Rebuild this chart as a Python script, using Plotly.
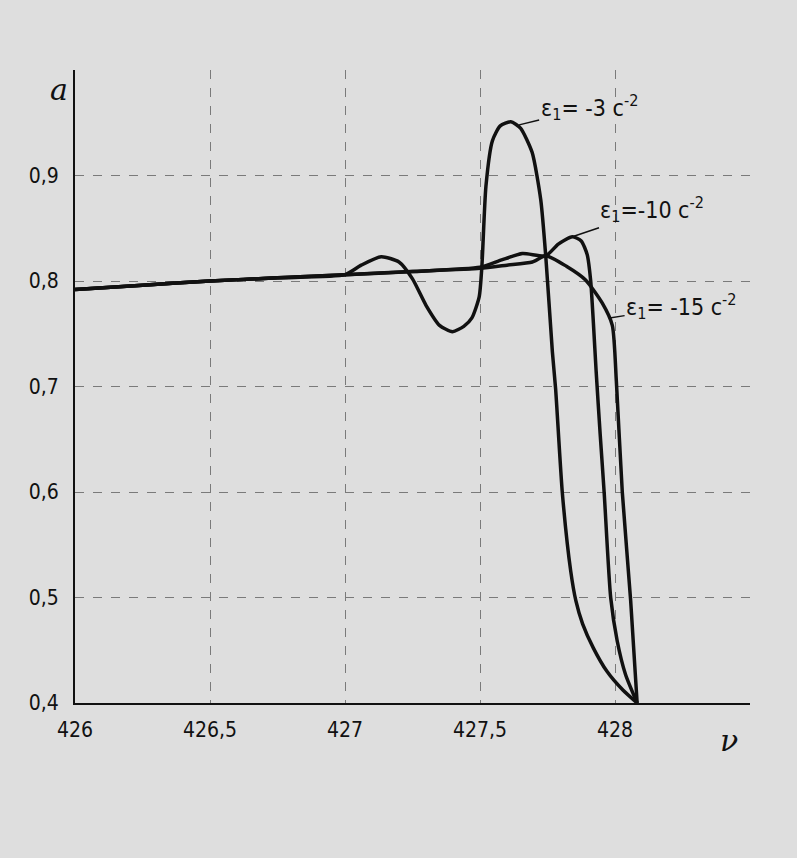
import plotly.graph_objects as go

# ---- data ----
x_eps3 = [426.0, 426.25, 426.5, 426.75, 427.0, 427.06, 427.134, 427.2, 427.25, 427.3, 427.35,
          427.398, 427.44, 427.47, 427.497, 427.507, 427.522, 427.546, 427.575, 427.614,
          427.65, 427.693, 427.725, 427.744, 427.768, 427.78, 427.805, 427.836, 427.855,
          427.88, 427.92, 427.97, 428.03, 428.082]
a_eps3 = [0.792, 0.796, 0.800, 0.803, 0.806, 0.815, 0.823, 0.818, 0.802, 0.777, 0.758,
          0.752, 0.757, 0.765, 0.785, 0.814, 0.890, 0.933, 0.947, 0.951,
          0.945, 0.922, 0.877, 0.822, 0.733, 0.698, 0.599, 0.525, 0.497,
          0.475, 0.452, 0.430, 0.412, 0.400]

x_eps10 = [426.0, 426.25, 426.5, 426.75, 427.0, 427.25, 427.5, 427.58, 427.657, 427.744,
           427.79, 427.842, 427.875, 427.897, 427.91, 427.92, 427.93, 427.945, 427.96,
           427.984, 428.008, 428.039, 428.082]
a_eps10 = [0.792, 0.796, 0.800, 0.803, 0.806, 0.809, 0.813, 0.820, 0.826, 0.824,
           0.835, 0.842, 0.838, 0.825, 0.800, 0.760, 0.715, 0.655, 0.599,
           0.500, 0.459, 0.427, 0.400]

x_eps15 = [426.0, 426.25, 426.5, 426.75, 427.0, 427.25, 427.5, 427.6, 427.694, 427.744,
           427.82, 427.891, 427.953, 427.99, 428.005, 428.027, 428.058, 428.082]
a_eps15 = [0.792, 0.796, 0.800, 0.803, 0.806, 0.809, 0.812, 0.815, 0.818, 0.824,
           0.814, 0.801, 0.779, 0.758, 0.705, 0.600, 0.497, 0.400]

x_ticks = [426.0, 426.5, 427.0, 427.5, 428.0, 428.5]
x_ticktext = ["426", "426,5", "427", "427,5", "428", ""]
y_ticks = [0.4, 0.5, 0.6, 0.7, 0.8, 0.9, 1.0]
y_ticktext = ["0,4", "0,5", "0,6", "0,7", "0,8", "0,9", ""]

labels = [
    ("ε<sub>1</sub>= -3 c<sup>-2</sup>", 427.645, 0.948, 70, -17),
    ("ε<sub>1</sub>=-10 c<sup>-2</sup>", 427.842, 0.842, 80, -27),
    ("ε<sub>1</sub>= -15 c<sup>-2</sup>", 427.98, 0.765, 72, -11),
]

FONT = "DejaVu Sans Condensed, DejaVu Sans, sans-serif"
PAPER = "#dedede"

fig = go.Figure()
for xs, ys in [(x_eps3, a_eps3), (x_eps10, a_eps10), (x_eps15, a_eps15)]:
    fig.add_trace(go.Scatter(x=xs, y=ys, mode="lines",
                             line=dict(color="#111111", width=3.5, shape="spline", smoothing=0.6),
                             showlegend=False, hoverinfo="skip"))

for text, lx, ly, axo, ayo in labels:
    fig.add_annotation(x=lx, y=ly, xref="x", yref="y", text=text, showarrow=True,
                       arrowhead=0, arrowwidth=1.5, arrowcolor="#111111",
                       ax=axo, ay=ayo, standoff=0,
                       font=dict(family=FONT, size=23, color="#111111"))

fig.add_annotation(x=-0.04, y=1.0, xref="paper", yref="paper", text="<i>a</i>",
                   showarrow=False, font=dict(family="DejaVu Serif", size=30, color="#111111"))
fig.add_annotation(x=0.985, y=-0.09, xref="paper", yref="paper", text="<i>ν</i>",
                   showarrow=False, font=dict(family="DejaVu Serif", size=30, color="#111111"))

fig.update_xaxes(range=[426.0, 428.5], tickvals=x_ticks, ticktext=x_ticktext,
                 showgrid=True, gridcolor="#7a7a7a", gridwidth=1, griddash="dash",
                 showline=True, linecolor="#111111", linewidth=2, zeroline=False,
                 ticks="", ticklabelstandoff=7,
                 tickfont=dict(family=FONT, size=21, color="#111111"))
fig.update_yaxes(range=[0.4, 1.0], tickvals=y_ticks, ticktext=y_ticktext,
                 showgrid=True, gridcolor="#7a7a7a", gridwidth=1, griddash="dash",
                 showline=True, linecolor="#111111", linewidth=2, zeroline=False,
                 ticks="", ticklabelstandoff=10,
                 tickfont=dict(family=FONT, size=21, color="#111111"))

fig.update_layout(width=797, height=858, paper_bgcolor=PAPER, plot_bgcolor=PAPER,
                  margin=dict(l=75, r=47, t=70, b=155), showlegend=False)

fig.write_html("out.html", config={"displayModeBar": False},
               post_script="document.body.style.margin='0px';")
